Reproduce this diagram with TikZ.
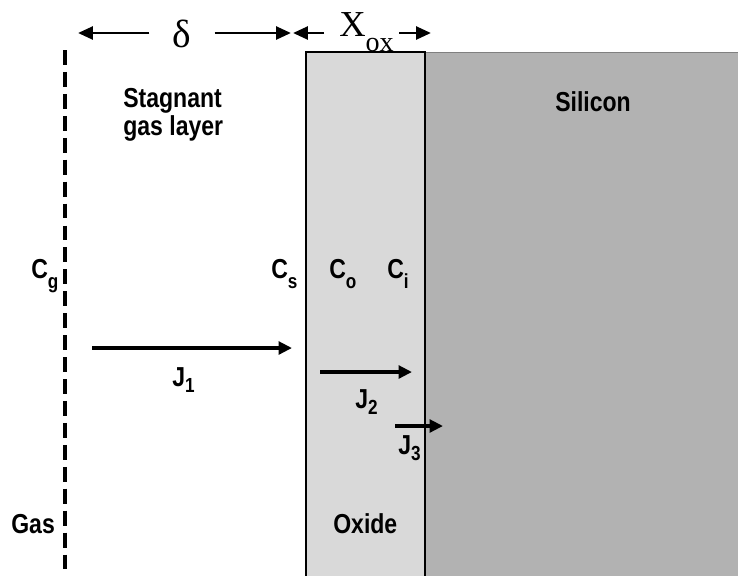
\documentclass[tikz,border=0pt]{standalone}
\usepackage{fontspec}
\setmainfont{Liberation Serif}
\newfontfamily\condsf[FakeStretch=0.84]{Liberation Sans}
\usetikzlibrary{arrows.meta, positioning}
\definecolor{oxidegray}{RGB}{217, 217, 217}
\definecolor{silicongray}{RGB}{178, 178, 178}
\newcommand{\csub}[2][7.6pt]{\raisebox{-#1}{\fontsize{14.5}{14.5}\selectfont #2}}

\begin{document}
\begin{tikzpicture}[x=0.025cm, y=-0.025cm,
    lbl/.style={font=\condsf\bfseries\fontsize{19.5}{22}\selectfont, inner sep=0pt, anchor=base west},
    dim/.style={-{Triangle[length=10.5pt, width=9pt]}, line width=2.1pt},
    flux/.style={-{Triangle[length=9.5pt, width=9pt]}, line width=2.8pt},
    interface/.style={draw=black, line width=1.1pt}
  ]
  \useasboundingbox (0,0) rectangle (738,575);

  % layers
  \fill[silicongray] (425,52) rectangle (740,577);
  \draw[gray, line width=0.6pt] (425,52) -- (740,52);
  \draw[interface, fill=oxidegray] (306,577) |- (425,52) -- (425,577);
  \draw[line width=2.8pt, dash pattern=on 10.6pt off 5pt] (65,50) -- (65,577);

  % thicknesses
  \node[font=\fontsize{28}{28}\selectfont, minimum width=46pt, inner sep=0pt] (delta) at (182,34) {δ};
  \coordinate (dL) at (78,33);
  \coordinate (dR) at (291,33);
  \draw[dim] (delta.west |- dL) -- (dL);
  \draw[dim] (delta.east |- dR) -- (dR);

  \node[anchor=base west, inner sep=0pt, font=\fontsize{26}{26}\selectfont] (xox) at (339,36) {X\raisebox{-11pt}{\fontsize{20}{20}\selectfont ox}};
  \coordinate (xL) at (293,33);
  \coordinate (xR) at (431,33);
  \draw[dim, shorten <=10.6pt] (xox.west |- xL) -- (xL);
  \draw[dim, shorten <=3.5pt] (xox.east |- xR) -- (xR);

  % regions
  \node[lbl] (stag) at (123,107) {Stagnant};
  \node[lbl] (gasl) at ([yshift=-20pt]stag.base west) {gas layer};
  \node[lbl] (si) at (555,111) {Silicon};
  \node[lbl] (gas) at (11,533) {Gas};
  \node[lbl] (oxide) at (333,533) {Oxide};

  % concentrations
  \node[lbl] (cg) at (31,278) {C\csub{g}};
  \node[lbl] (cs) at (271,278) {C\csub{s}};
  \node[lbl] (co) at (329,278) {C\csub{o}};
  \node[lbl] (ci) at (387,278) {C\csub{i}};

  % fluxes
  \coordinate (j1s) at (92,348);
  \coordinate (j1e) at (292,348);
  \coordinate (j2s) at (320,372);
  \coordinate (j2e) at (412,372);
  \coordinate (j3s) at (395,426);
  \coordinate (j3e) at (443,426);
  \draw[flux] (j1s) -- (j1e);
  \draw[flux] (j2s) -- (j2e);
  \draw[flux] (j3s) -- (j3e);
  \node[lbl] (j1) at (172,386) {J\csub[4.5pt]{1}};
  \node[lbl] (j2) at (355,408) {J\csub[4.5pt]{2}};
  \node[lbl] (j3) at (398,454) {J\csub[4.5pt]{3}};
\end{tikzpicture}
\end{document}
